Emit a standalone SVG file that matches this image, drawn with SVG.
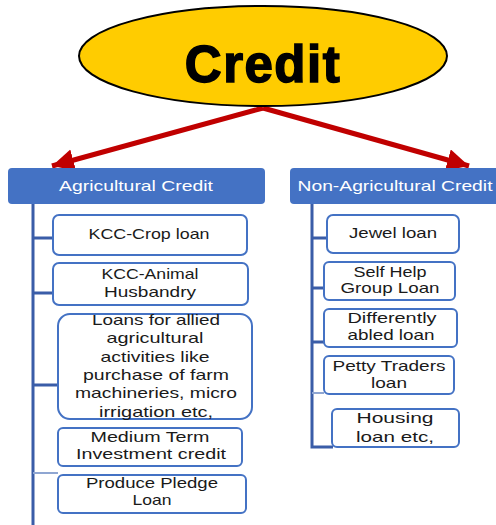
<svg xmlns="http://www.w3.org/2000/svg" width="496" height="525" viewBox="0 0 496 525">
<style>
.hdr{fill:#4472C4}
.hdrt{font-family:"Liberation Sans",Arial,sans-serif;font-size:15px;fill:#fff;text-anchor:middle}
.box{fill:#fff;stroke:#4472C4;stroke-width:2}
.t{font-family:"Liberation Sans",Arial,sans-serif;font-size:14.5px;fill:#1a1a1a;text-anchor:middle}
.con{stroke:#3A5DA8;stroke-width:3;fill:none}
.arr{stroke:#C00000;stroke-width:5;fill:none}
</style>
<defs>
<marker id="ah" markerUnits="userSpaceOnUse" markerWidth="26" markerHeight="26" refX="22" refY="11" orient="auto">
<path d="M0,0 L22,11 L0,22 z" fill="#C00000"/>
</marker>
</defs>
<g id="connectors">
<line class="arr" x1="263" y1="108" x2="52" y2="166" marker-end="url(#ah)"/>
<line class="arr" x1="263" y1="108" x2="469" y2="166" marker-end="url(#ah)"/>
<path class="con" d="M33,204 V525 M33,238 H53 M33,293 H53 M33,385 H58"/>
<path d="M33,473 H58" stroke="#8FA6D2" stroke-width="2"/>
<path class="con" d="M312,204 V447 H333 M312,238 H327 M312,288 H324 M312,342 H324"/>
<path d="M312,393 H324" stroke="#8FA6D2" stroke-width="2"/>
</g>
<g id="credit">
<ellipse cx="263" cy="56" rx="184" ry="50" fill="#FFCC00" stroke="#000" stroke-width="2"/>
<text x="263" y="82" font-family="Liberation Sans,Arial,sans-serif" font-weight="bold" font-size="51" letter-spacing="1.5" stroke="#000" stroke-width="1.5" text-anchor="middle">Credit</text>
</g>
<g id="agri">
<rect class="hdr" x="8" y="168" width="257" height="36" rx="4"/>
<text class="hdrt" x="136" y="191" textLength="154" lengthAdjust="spacingAndGlyphs">Agricultural Credit</text>
</g>
<g id="nonagri">
<rect class="hdr" x="290" y="168" width="210" height="36" rx="4"/>
<text class="hdrt" x="395" y="191" textLength="195" lengthAdjust="spacingAndGlyphs">Non-Agricultural Credit</text>
</g>
<g id="kcc-crop">
<rect class="box" x="53" y="215" width="194" height="40" rx="6"/>
<text class="t" x="149" y="239" textLength="121" lengthAdjust="spacingAndGlyphs">KCC-Crop loan</text>
</g>
<g id="kcc-animal">
<rect class="box" x="53" y="263" width="195" height="42" rx="6"/>
<text class="t" x="150" y="279" textLength="97" lengthAdjust="spacingAndGlyphs">KCC-Animal</text>
<text class="t" x="150" y="297" textLength="92" lengthAdjust="spacingAndGlyphs">Husbandry</text>
</g>
<g id="allied">
<rect class="box" x="58" y="314" width="194" height="105" rx="12"/>
<text class="t" x="156" y="325" textLength="128" lengthAdjust="spacingAndGlyphs">Loans for allied</text>
<text class="t" x="155" y="343" textLength="97" lengthAdjust="spacingAndGlyphs">agricultural</text>
<text class="t" x="155" y="362" textLength="109" lengthAdjust="spacingAndGlyphs">activities like</text>
<text class="t" x="156" y="380" textLength="146" lengthAdjust="spacingAndGlyphs">purchase of farm</text>
<text class="t" x="156" y="398" textLength="162" lengthAdjust="spacingAndGlyphs">machineries, micro</text>
<text class="t" x="156" y="417" textLength="114" lengthAdjust="spacingAndGlyphs">irrigation etc,</text>
</g>
<g id="medium">
<rect class="box" x="58" y="428" width="184" height="38" rx="5"/>
<text class="t" x="150" y="442" textLength="119" lengthAdjust="spacingAndGlyphs">Medium Term</text>
<text class="t" x="151" y="459" textLength="150" lengthAdjust="spacingAndGlyphs">Investment credit</text>
</g>
<g id="produce">
<rect class="box" x="58" y="475" width="188" height="38" rx="5"/>
<text class="t" x="152" y="488" textLength="132" lengthAdjust="spacingAndGlyphs">Produce Pledge</text>
<text class="t" x="152" y="505" textLength="39" lengthAdjust="spacingAndGlyphs">Loan</text>
</g>
<g id="jewel">
<rect class="box" x="327" y="215" width="132" height="38" rx="6"/>
<text class="t" x="393" y="238" textLength="88" lengthAdjust="spacingAndGlyphs">Jewel loan</text>
</g>
<g id="shg">
<rect class="box" x="324" y="262" width="131" height="38" rx="5"/>
<text class="t" x="390" y="277" textLength="73" lengthAdjust="spacingAndGlyphs">Self Help</text>
<text class="t" x="390" y="293" textLength="99" lengthAdjust="spacingAndGlyphs">Group Loan</text>
</g>
<g id="differently">
<rect class="box" x="324" y="309" width="133" height="38" rx="5"/>
<text class="t" x="392" y="323" textLength="89" lengthAdjust="spacingAndGlyphs">Differently</text>
<text class="t" x="391" y="340" textLength="87" lengthAdjust="spacingAndGlyphs">abled loan</text>
</g>
<g id="petty">
<rect class="box" x="324" y="356" width="130" height="38" rx="5"/>
<text class="t" x="389" y="371" textLength="113" lengthAdjust="spacingAndGlyphs">Petty Traders</text>
<text class="t" x="389" y="388" textLength="36" lengthAdjust="spacingAndGlyphs">loan</text>
</g>
<g id="housing">
<rect class="box" x="332" y="409" width="127" height="38" rx="5"/>
<text class="t" x="395" y="423" font-size="16" textLength="77" lengthAdjust="spacingAndGlyphs">Housing</text>
<text class="t" x="395" y="442" font-size="16" textLength="78" lengthAdjust="spacingAndGlyphs">loan etc,</text>
</g>
</svg>
